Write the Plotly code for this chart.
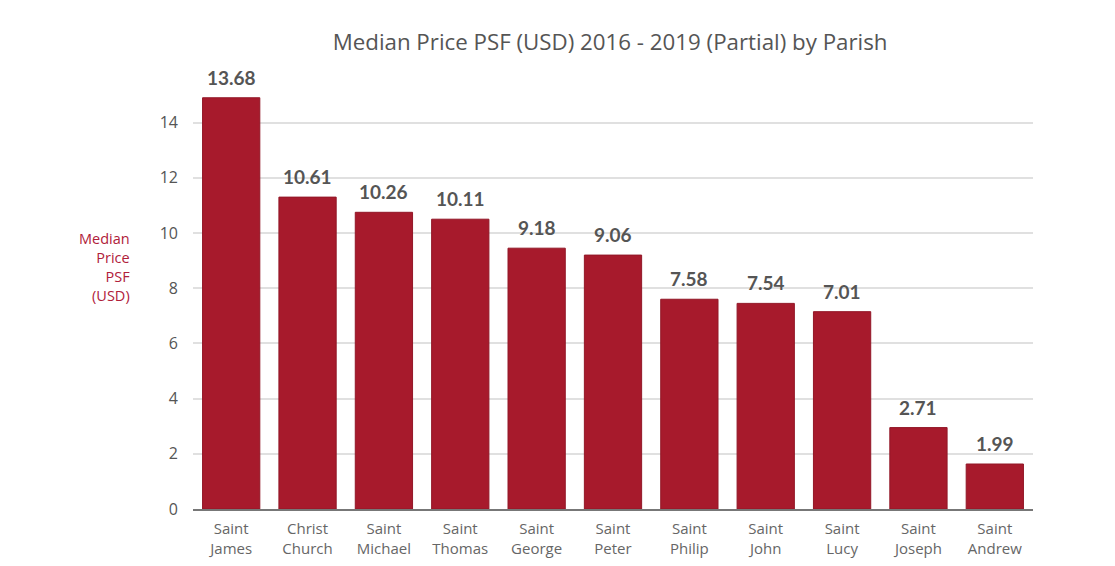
import plotly.graph_objects as go

parishes = ["Saint<br>James", "Christ<br>Church", "Saint<br>Michael", "Saint<br>Thomas",
            "Saint<br>George", "Saint<br>Peter", "Saint<br>Philip", "Saint<br>John",
            "Saint<br>Lucy", "Saint<br>Joseph", "Saint<br>Andrew"]
# bar heights as drawn in the reference (axis units)
bar_heights = [14.9, 11.3, 10.75, 10.5, 9.45, 9.2, 7.6, 7.45, 7.15, 2.95, 1.63]
# value labels printed above the bars
value_labels = ["13.68", "10.61", "10.26", "10.11", "9.18", "9.06", "7.58", "7.54", "7.01", "2.71", "1.99"]
y_ticks = [0, 2, 4, 6, 8, 10, 12, 14]

fig = go.Figure()
fig.add_trace(go.Bar(
    x=parishes, y=bar_heights,
    marker=dict(color="#a71a2c", line=dict(color="#921727", width=1)),
    cliponaxis=False,
))

annotations = [dict(x=p, y=h, text=f"<b>{t}</b>", xref="x", yref="y",
                    yanchor="bottom", yshift=7, showarrow=False,
                    font=dict(family="Lato", size=19, color="#555555"))
               for p, h, t in zip(parishes, bar_heights, value_labels)]
annotations.append(dict(text="Median<br>Price<br>PSF<br>(USD)", xref="paper", yref="paper",
                        x=-0.073, y=0.585, xanchor="right", yanchor="middle", align="right",
                        showarrow=False,
                        font=dict(family="Open Sans", size=14.5, color="#b0203a")))

fig.update_layout(
    width=1115, height=566,
    margin=dict(l=185, r=90, t=87, b=65, autoexpand=False),
    paper_bgcolor="white", plot_bgcolor="white",
    bargap=0.25,
    showlegend=False,
    title=dict(text="Median Price PSF (USD) 2016 - 2019 (Partial) by Parish",
               x=0.54, xanchor="center", y=0.94, yanchor="middle",
               font=dict(family="Open Sans", size=22.3, color="#555555")),
    xaxis=dict(showline=True, linecolor="#777777", linewidth=2, automargin=False,
               tickfont=dict(family="Open Sans", size=15, color="#666666"),
               ticks="", showgrid=False, ticklabelstandoff=5),
    yaxis=dict(range=[0, 15], tickvals=y_ticks, showgrid=True, gridcolor="#e0e0e0",
               gridwidth=1.5, zeroline=False, ticks="", ticklabelstandoff=14,
               automargin=False,
               tickfont=dict(family="Open Sans", size=16, color="#555555")),
    annotations=annotations,
)

fig.write_html("out.html")
